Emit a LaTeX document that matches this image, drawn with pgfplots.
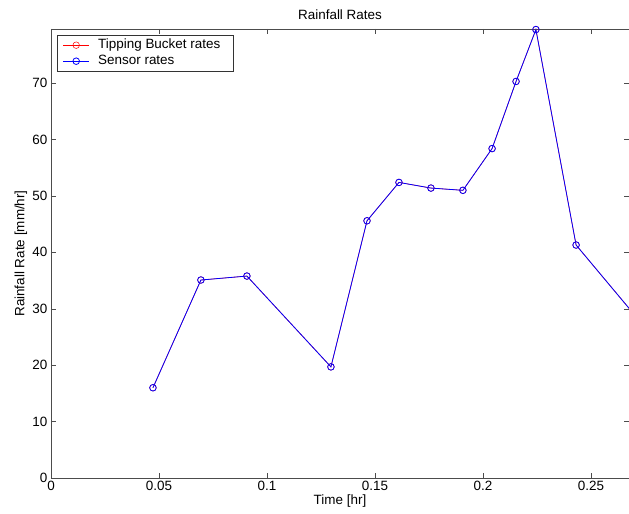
\documentclass[border=0pt]{standalone}
\usepackage{pgfplots}
\pgfplotsset{compat=1.18}
\usepackage{fontspec}
\setmainfont{Liberation Sans}
\begin{document}
\fontsize{13.5}{16}\selectfont
\begin{tikzpicture}[x=1bp,y=1bp]
\path[use as bounding box] (-51,-36) rectangle (578,478);
\begin{axis}[
  at={(0,0)}, anchor=south west,
  scale only axis, width=578bp, height=449bp,
  xmin=0, xmax=0.2676, ymin=0, ymax=79.6,
  xtick={0,0.05,0.1,0.15,0.2,0.25},
  ytick={0,10,20,30,40,50,60,70},
  tick align=inside, major tick length=5bp,
  axis line style={black!70}, tick style={black!70},
  /pgf/number format/assume math mode=true,
  /pgf/number format/fixed, /pgf/number format/precision=2,
  scaled x ticks=false,
  tick label style={font=\fontsize{13.5}{16}\selectfont},
  xticklabel style={yshift=2bp},
  yticklabel style={xshift=1bp},
  title={Rainfall Rates},
  title style={font=\fontsize{13.5}{16}\selectfont, yshift=-1.5bp},
  xlabel={Time [hr]}, ylabel={Rainfall Rate [mm/hr]},
  label style={font=\fontsize{13.5}{16}\selectfont},
  xlabel style={yshift=5bp},
  ylabel style={yshift=-4bp},
  clip=true,
  legend cell align=left,
  legend style={font=\fontsize{13.5}{16}\selectfont, draw=black!80, inner xsep=0pt, inner ysep=2bp,
    nodes={inner xsep=0pt, inner ysep=0pt, text height=11bp, text depth=5bp},
    at={(6bp,443bp)}, anchor=north west},
  legend image code/.code={\path[draw=none,fill=none] (0bp,-1bp) rectangle (41bp,1bp); \draw[#1] (6bp,0bp) -- (32bp,0bp); \draw[#1,mark repeat=1] plot coordinates {(19bp,0bp)};},
]
\addplot[red, line width=0.5bp, mark=o, mark size=3.3bp] coordinates {
(0.0472,16.0) (0.0694,35.1) (0.0907,35.8) (0.1296,19.7) (0.1463,45.6)
(0.1611,52.4) (0.1759,51.4) (0.1907,51.0) (0.2042,58.4) (0.2153,70.3)
(0.2245,79.5) (0.2431,41.3) (0.2820,23.5)
};
\addlegendentry{Tipping Bucket rates\hspace*{13bp}}
\addplot[blue, line width=0.8bp, mark=o, mark size=3.3bp] coordinates {
(0.0472,16.0) (0.0694,35.1) (0.0907,35.8) (0.1296,19.7) (0.1463,45.6)
(0.1611,52.4) (0.1759,51.4) (0.1907,51.0) (0.2042,58.4) (0.2153,70.3)
(0.2245,79.5) (0.2431,41.3) (0.2820,23.5)
};
\addlegendentry{Sensor rates}
\end{axis}
\end{tikzpicture}
\end{document}
